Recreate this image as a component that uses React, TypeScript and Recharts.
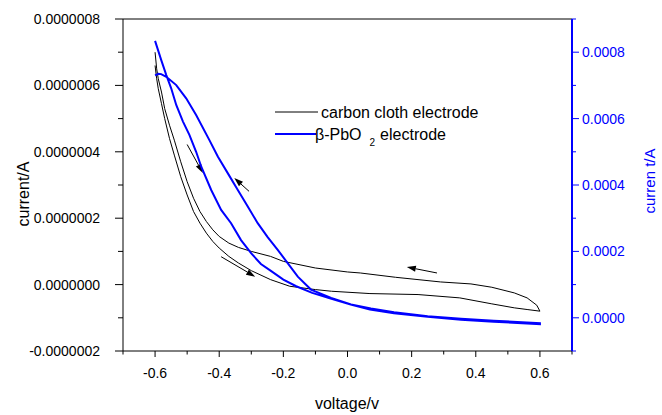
import { LineChart, Line, XAxis, YAxis, ReferenceLine, Legend } from 'recharts';

const FONT = '"Liberation Sans", Arial, sans-serif';
const BLUE = '#0000ff';

// axis ticks
const voltTicks = [-0.7, -0.6, -0.5, -0.4, -0.3, -0.2, -0.1, 0, 0.1, 0.2, 0.3, 0.4, 0.5, 0.6, 0.7];
const leftTickSteps = [-2, -1, 0, 1, 2, 3, 4, 5, 6, 7, 8]; // x 1e-7 A
const rightTickSteps = [-1, 0, 1, 2, 3, 4, 5, 6, 7, 8, 9]; // x 1e-4 A

// carbon cloth electrode (current in 1e-7 A)
const carbonFwdV = [-0.6, -0.595, -0.59, -0.58, -0.57, -0.555, -0.54, -0.52, -0.5, -0.48, -0.46, -0.44, -0.42, -0.4, -0.37, -0.34, -0.3, -0.24, -0.18, -0.1, -0.05, 0.07, 0.22, 0.35, 0.45, 0.52, 0.56, 0.6];
const carbonFwdI = [6.6, 6.2, 5.9, 5.45, 5.0, 4.4, 3.9, 3.25, 2.7, 2.2, 1.85, 1.55, 1.3, 1.1, 0.85, 0.65, 0.42, 0.15, -0.05, -0.15, -0.2, -0.27, -0.3, -0.4, -0.58, -0.7, -0.75, -0.8];
const carbonRevV = [0.6, 0.59, 0.56, 0.52, 0.45, 0.385, 0.29, 0.15, 0.04, 0, -0.1, -0.2, -0.24, -0.3, -0.34, -0.37, -0.4, -0.42, -0.44, -0.46, -0.48, -0.5, -0.52, -0.54, -0.555, -0.57, -0.58, -0.59, -0.595, -0.6];
const carbonRevI = [-0.8, -0.62, -0.4, -0.25, -0.08, 0.02, 0.08, 0.22, 0.35, 0.38, 0.5, 0.7, 0.85, 1.0, 1.12, 1.25, 1.45, 1.65, 1.9, 2.2, 2.6, 3.1, 3.7, 4.35, 4.8, 5.3, 5.8, 6.2, 6.5, 7.0];

// beta-PbO2 electrode (current in 1e-4 A)
const pbo2FwdV = [-0.6, -0.581, -0.565, -0.55, -0.534, -0.513, -0.493, -0.472, -0.456, -0.425, -0.394, -0.363, -0.332, -0.3, -0.27, -0.24, -0.2, -0.16, -0.11, -0.05, 0.01, 0.07, 0.145, 0.25, 0.354, 0.456, 0.6];
const pbo2FwdI = [8.34, 7.77, 7.31, 6.92, 6.41, 5.91, 5.51, 5.0, 4.55, 3.85, 3.25, 2.85, 2.34, 1.94, 1.62, 1.42, 1.15, 0.95, 0.75, 0.57, 0.4, 0.25, 0.14, 0.03, -0.06, -0.12, -0.19];
const pbo2RevV = [0.6, 0.456, 0.354, 0.25, 0.145, 0.073, 0.011, -0.051, -0.114, -0.155, -0.186, -0.217, -0.249, -0.28, -0.311, -0.342, -0.373, -0.404, -0.431, -0.472, -0.503, -0.534, -0.565, -0.581, -0.59, -0.6];
const pbo2RevI = [-0.16, -0.09, -0.03, 0.05, 0.17, 0.28, 0.4, 0.6, 0.85, 1.24, 1.64, 2.04, 2.43, 2.85, 3.35, 3.85, 4.35, 4.85, 5.36, 6.11, 6.61, 7.01, 7.26, 7.34, 7.35, 7.3];

// scan direction arrows, [v, current x 1e-7 A] tail -> head
const arrowTails = [[-0.5, 4.22], [-0.307, 2.81], [-0.394, 0.84], [0.279, 0.35]];
const arrowHeads = [[-0.451, 3.36], [-0.353, 3.21], [-0.288, 0.24], [0.185, 0.53]];

const carbonLoop = [
  ...carbonFwdV.map((v, k) => ({ v, i: carbonFwdI[k] * 1e-7 })),
  ...carbonRevV.map((v, k) => ({ v, i: carbonRevI[k] * 1e-7 })),
];
const pbo2Loop = [
  ...pbo2FwdV.map((v, k) => ({ v, i: pbo2FwdI[k] * 1e-4 })),
  ...pbo2RevV.map((v, k) => ({ v, i: pbo2RevI[k] * 1e-4 })),
];

const VoltTick = ({ x, y, payload }: any) => {
  const major = Math.round(payload.value * 10) % 2 === 0;
  return (
    <g>
      <line x1={x} y1={y} x2={x} y2={y + (major ? 6 : 3.5)} stroke="#000" />
      {major && (
        <text x={x} y={y + 27} textAnchor="middle" fontSize={14} fontFamily={FONT} fill="#000">
          {Number(payload.value).toFixed(1)}
        </text>
      )}
    </g>
  );
};

const LeftTick = ({ x, y, payload }: any) => {
  const major = Math.round(payload.value * 1e7) % 2 === 0;
  return (
    <g>
      <line x1={x} y1={y} x2={x - (major ? 8 : 5)} y2={y} stroke="#000" />
      {major && (
        <text x={x - 23} y={y + 5} textAnchor="end" fontSize={14} fontFamily={FONT} fill="#000">
          {Number(payload.value).toFixed(7)}
        </text>
      )}
    </g>
  );
};

const RightTick = ({ x, y, payload }: any) => {
  const major = Math.round(payload.value * 1e4) % 2 === 0;
  return (
    <g>
      <line x1={x} y1={y} x2={x + (major ? 7 : 4)} y2={y} stroke={BLUE} />
      {major && (
        <text x={x + 10} y={y + 5} textAnchor="start" fontSize={14} fontFamily={FONT} fill={BLUE}>
          {Number(payload.value).toFixed(4)}
        </text>
      )}
    </g>
  );
};

const ArrowShape = (props: any) => {
  const { x1, y1, x2, y2 } = props;
  const a = Math.atan2(y2 - y1, x2 - x1);
  const bx = x2 - 9 * Math.cos(a);
  const by = y2 - 9 * Math.sin(a);
  const px = -Math.sin(a) * 3;
  const py = Math.cos(a) * 3;
  return (
    <g>
      <line x1={x1} y1={y1} x2={bx} y2={by} stroke="#000" />
      <polygon points={`${x2},${y2} ${bx + px},${by + py} ${bx - px},${by - py}`} fill="#000" />
    </g>
  );
};

const LegendContent = ({ payload }: any) => (
  <svg width={250} height={46} style={{ display: 'block' }}>
    {(payload || []).map((entry: any, k: number) => {
      const cy = 10 + k * 22;
      const parts = String(entry.value).split('₂');
      return (
        <g key={k}>
          <line x1={0} x2={k === 0 ? 43 : 41} y1={cy} y2={cy} stroke={entry.color} strokeWidth={entry.payload?.strokeWidth ?? 1} />
          <text x={k === 0 ? 46 : 40} y={cy + 5.5} fontSize={16} fontFamily={FONT} fill="#000">
            {parts[0]}
            {parts.length > 1 && <tspan dx={8} dy={6} fontSize={10}>2</tspan>}
            {parts.length > 1 && <tspan dx={5} dy={-6}>{parts[1].trim()}</tspan>}
          </text>
        </g>
      );
    })}
  </svg>
);

export default function App() {
  return (
    <div style={{ position: 'absolute', left: 0, top: 0, background: '#fff' }}>
      <LineChart width={662} height={415} margin={{ top: 19, right: 0, bottom: 0, left: 0 }}>
        <XAxis
          dataKey="v"
          type="number"
          domain={[-0.7, 0.7]}
          ticks={voltTicks}
          allowDataOverflow
          height={64}
          stroke="#000"
          tickLine={false}
          tickSize={0}
          tickMargin={0}
          tick={<VoltTick />}
          interval={0}
          label={{
            value: 'voltage/v',
            content: (p: any) => (
              <text x={347} y={409} textAnchor="middle" fontSize={16} fontFamily={FONT} fill="#000">
                {p.value}
              </text>
            ),
          }}
        />
        <YAxis
          yAxisId="left"
          type="number"
          domain={[-2e-7, 8e-7]}
          ticks={leftTickSteps.map((s) => s * 1e-7)}
          allowDataOverflow
          width={123}
          stroke="#000"
          tickLine={false}
          tickSize={0}
          tickMargin={0}
          tick={<LeftTick />}
          interval={0}
          label={{
            value: 'current/A',
            content: (p: any) => (
              <text transform="translate(29,194) rotate(-90)" textAnchor="middle" fontSize={16} fontFamily={FONT} fill="#000">
                {p.value}
              </text>
            ),
          }}
        />
        <YAxis
          yAxisId="right"
          orientation="right"
          type="number"
          domain={[-1e-4, 9e-4]}
          ticks={rightTickSteps.map((s) => s * 1e-4)}
          allowDataOverflow
          width={90}
          stroke={BLUE}
          strokeWidth={2}
          tickLine={false}
          tickSize={0}
          tickMargin={0}
          tick={<RightTick />}
          interval={0}
          label={{
            value: 'curren t/A',
            content: (p: any) => (
              <text transform="translate(655,181) rotate(-90)" textAnchor="middle" fontSize={15} fontFamily={FONT} fill={BLUE}>
                {p.value}
              </text>
            ),
          }}
        />
        <ReferenceLine yAxisId="left" y={8e-7} stroke="#000" />
        {arrowTails.map((t, k) => (
          <ReferenceLine
            key={k}
            yAxisId="left"
            segment={[
              { x: t[0], y: t[1] * 1e-7 },
              { x: arrowHeads[k][0], y: arrowHeads[k][1] * 1e-7 },
            ]}
            shape={ArrowShape}
          />
        ))}
        <Line
          yAxisId="left"
          data={carbonLoop}
          dataKey="i"
          name="carbon cloth electrode"
          type="linear"
          stroke="#000"
          strokeWidth={1}
          dot={false}
          activeDot={false}
          isAnimationActive={false}
        />
        <Line
          yAxisId="right"
          data={pbo2Loop}
          dataKey="i"
          name="β-PbO₂ electrode"
          type="linear"
          stroke={BLUE}
          strokeWidth={2}
          dot={false}
          activeDot={false}
          isAnimationActive={false}
        />
        <Legend
          layout="vertical"
          align="center"
          verticalAlign="middle"
          content={<LegendContent />}
          wrapperStyle={{ left: 275, top: 102, width: 250 }}
        />
      </LineChart>
    </div>
  );
}
